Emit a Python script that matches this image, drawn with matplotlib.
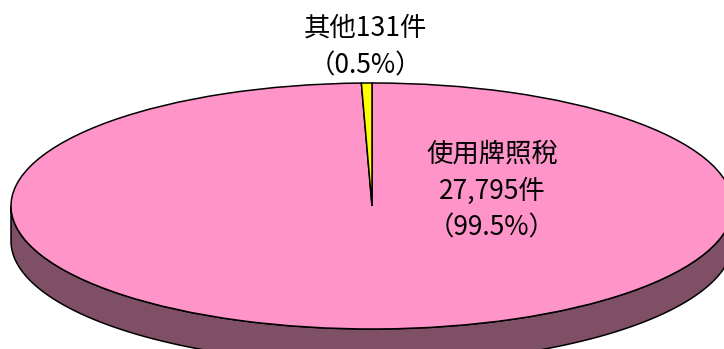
import numpy as np
import matplotlib
matplotlib.use("Agg")
import matplotlib.pyplot as plt
from matplotlib.patches import Polygon
from matplotlib.transforms import Affine2D

plt.rcParams['font.family'] = ['Noto Sans CJK TC', 'DejaVu Sans']

# Vehicle tax cases by category
categories = ['使用牌照稅', '其他']
counts = [27795, 131]

top_color = ['#FF94C9', '#FFFF00']
side_color = '#7F4F66'

fig = plt.figure(figsize=(7.24, 3.49), dpi=100)
ax = fig.add_axes([0, 0, 1, 1])

# flattened 3-D pie geometry (pixel units, y up)
cx, cy = 372, 349 - 206
rx, ry = 361, 123
depth = 35

# side wall of the disc (front half)
t = np.linspace(np.pi, 2 * np.pi, 300)
upper = np.column_stack([cx + rx * np.cos(t), cy + ry * np.sin(t)])
lower = upper[::-1] - np.array([0, depth])
side = Polygon(np.vstack([upper, lower]), closed=True, facecolor=side_color,
               edgecolor='black', linewidth=1.1, zorder=1)
ax.add_patch(side)

wedges, _ = ax.pie(counts, colors=top_color, startangle=90, counterclock=False,
                   wedgeprops=dict(edgecolor='black', linewidth=1.1))
tr = Affine2D().scale(rx, ry).translate(cx, cy) + ax.transData
for w in wedges:
    w.set_transform(tr)
    w.set_zorder(2)

ax.set_aspect('auto')
ax.set_xlim(0, 724)
ax.set_ylim(0, 349)
ax.axis('off')

total = sum(counts)
pcts = [c / total * 100 for c in counts]

ax.text(365, 349 - 47, f'{categories[1]}{counts[1]:,}件\n（{pcts[1]:.1f}%）',
        ha='center', va='center', fontsize=19, linespacing=1.5, zorder=3)
ax.text(492, 349 - 191, f'{categories[0]}\n{counts[0]:,}件\n（{pcts[0]:.1f}%）',
        ha='center', va='center', fontsize=19, linespacing=1.45, zorder=3)

fig.savefig('out.png', dpi=100)
